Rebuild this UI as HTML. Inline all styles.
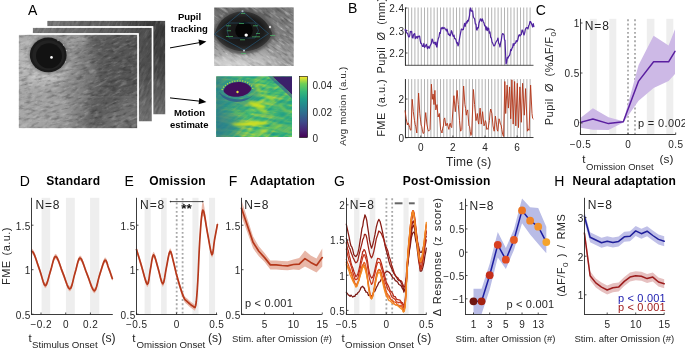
<!DOCTYPE html>
<html><head><meta charset="utf-8"><style>
html,body{margin:0;padding:0;background:#fff;}
svg{display:block;will-change:transform;}
text{font-family:"Liberation Sans", sans-serif;}
</style></head><body>
<svg width="685" height="350" viewBox="0 0 685 350">
<defs>
<linearGradient id="gBack" x1="0" y1="0" x2="1" y2="0">
 <stop offset="0" stop-color="#767676"/><stop offset="0.55" stop-color="#5a5a5a"/><stop offset="0.9" stop-color="#3c3c3c"/><stop offset="1" stop-color="#3a3a3a"/></linearGradient>
<linearGradient id="gBackV" x1="0" y1="0" x2="0" y2="1">
 <stop offset="0" stop-color="#6e6e6e" stop-opacity="0"/><stop offset="0.4" stop-color="#6e6e6e" stop-opacity="0.1"/><stop offset="1" stop-color="#7a7a7a" stop-opacity="0.85"/></linearGradient>
<linearGradient id="gMid" x1="0" y1="0" x2="1" y2="0">
 <stop offset="0" stop-color="#7a7a7a"/><stop offset="0.6" stop-color="#626262"/><stop offset="1" stop-color="#4a4a4a"/></linearGradient>
<linearGradient id="gFront" x1="0" y1="0" x2="1" y2="0">
 <stop offset="0" stop-color="#ababab"/><stop offset="0.3" stop-color="#9a9a9a"/><stop offset="0.55" stop-color="#7e7e7e"/><stop offset="0.78" stop-color="#686868"/><stop offset="1" stop-color="#5e5e5e"/></linearGradient>
<radialGradient id="gEyeGlow" cx="0.5" cy="0.5" r="0.5">
 <stop offset="0" stop-color="#c4c4c4" stop-opacity="0.85"/><stop offset="1" stop-color="#c4c4c4" stop-opacity="0"/></radialGradient>
<radialGradient id="gEyeHalo" cx="0.5" cy="0.5" r="0.5">
 <stop offset="0.7" stop-color="#4a4a4a" stop-opacity="0.7"/><stop offset="1" stop-color="#4a4a4a" stop-opacity="0"/></radialGradient>
<radialGradient id="gDark" cx="0.5" cy="0.5" r="0.5">
 <stop offset="0" stop-color="#3a3a3a" stop-opacity="0.6"/><stop offset="1" stop-color="#3a3a3a" stop-opacity="0"/></radialGradient>
<linearGradient id="gPupBg" x1="0" y1="0" x2="0" y2="1">
 <stop offset="0" stop-color="#707070"/><stop offset="0.5" stop-color="#7c7c7c"/><stop offset="0.75" stop-color="#a4a4a4"/><stop offset="1" stop-color="#c2c2c2"/></linearGradient>
<radialGradient id="gEyeIn" cx="0.5" cy="0.5" r="0.5">
 <stop offset="0" stop-color="#141414"/><stop offset="0.7" stop-color="#1c1c1c"/><stop offset="1" stop-color="#383838"/></radialGradient>
<linearGradient id="gPupR" x1="0" y1="0" x2="1" y2="0">
 <stop offset="0" stop-color="#7a7a7a" stop-opacity="0"/><stop offset="1" stop-color="#8a8a8a" stop-opacity="0.6"/></linearGradient>
<linearGradient id="gViridis" x1="0" y1="1" x2="0" y2="0">
 <stop offset="0" stop-color="#440154"/><stop offset="0.13" stop-color="#482878"/><stop offset="0.25" stop-color="#3e4989"/><stop offset="0.38" stop-color="#31688e"/><stop offset="0.5" stop-color="#26828e"/><stop offset="0.63" stop-color="#1f9e89"/><stop offset="0.75" stop-color="#35b779"/><stop offset="0.88" stop-color="#6ece58"/><stop offset="1" stop-color="#fde725"/></linearGradient>
<linearGradient id="gMotL" x1="0" y1="0" x2="1" y2="0">
 <stop offset="0" stop-color="#2b6f8e" stop-opacity="0.75"/><stop offset="0.2" stop-color="#2b7f8e" stop-opacity="0.3"/><stop offset="0.45" stop-color="#2b7f8e" stop-opacity="0"/></linearGradient>
<clipPath id="cBack"><rect x="46.5" y="20" width="119.5" height="95"/></clipPath>
<clipPath id="cMid"><rect x="32" y="27" width="120.5" height="95"/></clipPath>
<clipPath id="cFront"><rect x="18" y="34" width="120" height="95"/></clipPath>
<clipPath id="cPup"><rect x="214.2" y="7.4" width="79.4" height="58.5"/></clipPath>
<clipPath id="cMot"><rect x="216.3" y="76.5" width="75.7" height="60.5"/></clipPath>
<filter id="fFur" x="0" y="0" width="1" height="1" color-interpolation-filters="sRGB">
 <feTurbulence type="fractalNoise" baseFrequency="0.1 0.45" numOctaves="3" seed="5"/>
 <feColorMatrix type="matrix" values="0 0 0 0 0  0 0 0 0 0  0 0 0 0 0  2.0 0 0 0 -0.95"/>
 <feComposite in2="SourceGraphic" operator="in"/>
</filter>
<filter id="fFurL" x="0" y="0" width="1" height="1" color-interpolation-filters="sRGB">
 <feTurbulence type="fractalNoise" baseFrequency="0.1 0.45" numOctaves="3" seed="9"/>
 <feColorMatrix type="matrix" values="0 0 0 0 1  0 0 0 0 1  0 0 0 0 1  2.0 0 0 0 -1.0"/>
 <feComposite in2="SourceGraphic" operator="in"/>
</filter>
<filter id="fMot" x="0" y="0" width="1" height="1" color-interpolation-filters="sRGB">
 <feTurbulence type="fractalNoise" baseFrequency="0.05 0.3" numOctaves="3" seed="11" result="n"/>
 <feColorMatrix in="n" type="matrix" values="1.7 0 0 0 -0.2  1.7 0 0 0 -0.2  1.7 0 0 0 -0.2  0 0 0 0 1" result="g"/>
 <feComponentTransfer in="g">
  <feFuncR type="table" tableValues="0.17 0.13 0.14 0.20 0.36 0.62 0.86"/>
  <feFuncG type="table" tableValues="0.46 0.56 0.64 0.71 0.78 0.85 0.89"/>
  <feFuncB type="table" tableValues="0.56 0.55 0.53 0.48 0.41 0.28 0.18"/>
 </feComponentTransfer>
 <feComposite in2="SourceGraphic" operator="in"/>
</filter>
<filter id="fMot2" x="0" y="0" width="1" height="1" color-interpolation-filters="sRGB">
 <feTurbulence type="fractalNoise" baseFrequency="0.06 0.35" numOctaves="2" seed="17" result="n"/>
 <feColorMatrix in="n" type="matrix" values="1.7 0 0 0 -0.2  1.7 0 0 0 -0.2  1.7 0 0 0 -0.2  0 0 0 0 1" result="g"/>
 <feComponentTransfer in="g">
  <feFuncR type="table" tableValues="0.17 0.13 0.14 0.20 0.36 0.62 0.86"/>
  <feFuncG type="table" tableValues="0.46 0.56 0.64 0.71 0.78 0.85 0.89"/>
  <feFuncB type="table" tableValues="0.56 0.55 0.53 0.48 0.41 0.28 0.18"/>
 </feComponentTransfer>
 <feComposite in2="SourceGraphic" operator="in"/>
</filter>
<filter id="fBlur4" x="-50%" y="-50%" width="200%" height="200%"><feGaussianBlur stdDeviation="5"/></filter>
<filter id="fFur2" x="0" y="0" width="1" height="1" color-interpolation-filters="sRGB">
 <feTurbulence type="fractalNoise" baseFrequency="0.13 0.4" numOctaves="4" seed="23"/>
 <feColorMatrix type="matrix" values="0 0 0 0 0  0 0 0 0 0  0 0 0 0 0  2.2 0 0 0 -1.05"/>
 <feComposite in2="SourceGraphic" operator="in"/>
</filter>
<filter id="fFurL2" x="0" y="0" width="1" height="1" color-interpolation-filters="sRGB">
 <feTurbulence type="fractalNoise" baseFrequency="0.13 0.4" numOctaves="4" seed="31"/>
 <feColorMatrix type="matrix" values="0 0 0 0 1  0 0 0 0 1  0 0 0 0 1  2.2 0 0 0 -1.1"/>
 <feComposite in2="SourceGraphic" operator="in"/>
</filter>
<filter id="fBlur1" x="-30%" y="-30%" width="160%" height="160%"><feGaussianBlur stdDeviation="1"/></filter>
<filter id="fBlur2" x="-50%" y="-50%" width="200%" height="200%"><feGaussianBlur stdDeviation="2"/></filter>
</defs>
<rect width="685" height="350" fill="#fff"/>
<text x="28.00" y="15.00" font-size="14" text-anchor="start" font-weight="normal" fill="#000" >A</text>
<rect x="46.5" y="20" width="119.5" height="95" fill="url(#gBack)" stroke="#fff" stroke-width="1.4"/>
<rect x="46.5" y="20" width="119.5" height="95" fill="url(#gBackV)"/>
<g clip-path="url(#cBack)"><g transform="rotate(-70 140 60)"><rect x="60" y="-40" width="170" height="200" fill="#000" filter="url(#fFurL)" opacity="0.22"/><rect x="60" y="-40" width="170" height="200" fill="#000" filter="url(#fFur)" opacity="0.3"/></g></g>
<rect x="46.5" y="20" width="119.5" height="95" fill="none" stroke="#fff" stroke-width="1.4"/>
<rect x="32" y="27" width="120.5" height="95" fill="url(#gMid)" stroke="#fff" stroke-width="1.4"/>
<rect x="32" y="27" width="120.5" height="95" fill="url(#gBackV)"/>
<g clip-path="url(#cMid)"><g transform="rotate(-60 120 70)"><rect x="40" y="-40" width="170" height="220" fill="#000" filter="url(#fFurL)" opacity="0.22"/><rect x="40" y="-40" width="170" height="220" fill="#000" filter="url(#fFur)" opacity="0.3"/></g></g>
<rect x="32" y="27" width="120.5" height="95" fill="none" stroke="#fff" stroke-width="1.4"/>
<rect x="18" y="34" width="120" height="95" fill="url(#gFront)" stroke="#fff" stroke-width="1.4"/>
<g clip-path="url(#cFront)">
<path d="M88 34 L138 34 L138 92 C125 96, 108 104, 100 129 L84 129 C86 110, 92 95, 96 80 C96 62, 92 48, 88 34 Z" fill="#4e4e4e" opacity="0.6" filter="url(#fBlur4)"/>
<path d="M104 129 C110 110, 125 98, 138 95 L138 129 Z" fill="#7a7a7a" opacity="0.6" filter="url(#fBlur4)"/>
<ellipse cx="42" cy="62" rx="28" ry="26" fill="#bebebe" opacity="0.7" filter="url(#fBlur4)"/>
<ellipse cx="42" cy="108" rx="28" ry="22" fill="#a4a4a4" opacity="0.5" filter="url(#fBlur4)"/>
<ellipse cx="78" cy="40" rx="9" ry="7" fill="#b0b0b0" opacity="0.5" filter="url(#fBlur2)"/>
<ellipse cx="46" cy="78" rx="24" ry="6" fill="url(#gEyeGlow)"/>
<g transform="rotate(-12 78 82)"><rect x="-20" y="10" width="200" height="150" fill="#000" filter="url(#fFur2)" opacity="0.35"/></g>
<g transform="rotate(-25 78 82)"><rect x="-20" y="10" width="200" height="150" fill="#000" filter="url(#fFurL2)" opacity="0.3"/></g>
<ellipse cx="48.5" cy="55" rx="22" ry="21" fill="url(#gEyeHalo)"/>
<ellipse cx="48.2" cy="54.9" rx="18.4" ry="17.3" fill="#1a1a1a"/>
<ellipse cx="48.4" cy="55.2" rx="16" ry="15" fill="#222"/>
<ellipse cx="49" cy="55.8" rx="13" ry="12.5" fill="#121212"/>
<circle cx="58" cy="40.5" r="0.7" fill="#d0d0d0" opacity="0.7"/>
<circle cx="63.5" cy="45" r="0.7" fill="#d0d0d0" opacity="0.7"/>
<circle cx="66.5" cy="50.5" r="0.7" fill="#d0d0d0" opacity="0.7"/>
<circle cx="65.5" cy="62" r="0.7" fill="#d0d0d0" opacity="0.7"/>
<line x1="78" y1="96.9" x2="138" y2="96.9" stroke="#fff" stroke-opacity="0.18" stroke-width="0.6"/>
<circle cx="51.5" cy="57.4" r="1.3" fill="#fff"/>
</g>
<rect x="18" y="34" width="120" height="95" fill="none" stroke="#fff" stroke-width="1.4"/>
<g clip-path="url(#cPup)">
<rect x="214" y="7" width="80" height="59" fill="url(#gPupBg)"/>
<rect x="260" y="7" width="34" height="59" fill="url(#gPupR)"/>
<g transform="rotate(35 260 30)"><rect x="200" y="-30" width="120" height="120" fill="#000" filter="url(#fFurL)" opacity="0.7"/></g>
<g transform="rotate(35 260 30)"><rect x="200" y="-30" width="120" height="120" fill="#000" filter="url(#fFur)" opacity="0.4"/></g>
<ellipse cx="230" cy="62" rx="20" ry="6" fill="#dcdcdc" opacity="0.55" filter="url(#fBlur2)"/>
<ellipse cx="262" cy="60" rx="14" ry="5" fill="#c8c8c8" opacity="0.4" filter="url(#fBlur2)"/>
<path d="M212.5 34.2 C220 1, 264 1, 275.5 33.4 C264 60, 224 62, 212.5 34.2 Z" fill="#5a5a5a" filter="url(#fBlur1)"/>
<path d="M214.5 34.2 C222 4, 262 4, 272.3 33.4 C262 57, 226 57, 214.5 34.2 Z" fill="url(#gEyeIn)"/>
<circle cx="244" cy="30.4" r="8.7" fill="#050505"/>
<circle cx="246.2" cy="35.1" r="1.7" fill="#fff"/>
<circle cx="242.5" cy="11.2" r="1" fill="#ddd"/><circle cx="244" cy="50.5" r="1" fill="#ddd"/><circle cx="270" cy="27" r="1.2" fill="#ddd"/>
<polygon points="214.5,34.2 242.5,11.2 268.5,33.6 244,50.2" fill="none" stroke="#2a6f9a" stroke-width="0.5"/>
<polygon points="229,23 255,23 258.5,30.4 255,38 229,38 227,30.4" fill="none" stroke="#2a6f9a" stroke-width="0.4"/>
<rect x="239" y="23" width="5" height="0.7" fill="#4ec46a" opacity="0.9"/>
<rect x="226" y="25.5" width="5" height="0.7" fill="#4ec46a" opacity="0.9"/>
<rect x="253" y="25.5" width="5" height="0.7" fill="#4ec46a" opacity="0.9"/>
<rect x="227" y="30.5" width="4" height="0.7" fill="#4ec46a" opacity="0.9"/>
<rect x="256" y="33" width="4" height="0.7" fill="#4ec46a" opacity="0.9"/>
<rect x="226" y="36" width="7" height="0.7" fill="#4ec46a" opacity="0.9"/>
<rect x="252" y="36.5" width="8" height="0.7" fill="#4ec46a" opacity="0.9"/>
<rect x="240" y="39.5" width="5" height="0.7" fill="#4ec46a" opacity="0.9"/>
<rect x="270" y="35" width="5" height="0.7" fill="#4ec46a" opacity="0.9"/>
<rect x="241" y="13" width="4" height="0.7" fill="#4ec46a" opacity="0.9"/>
<rect x="241" y="53" width="5" height="0.7" fill="#4ec46a" opacity="0.9"/>
</g>
<g clip-path="url(#cMot)">
<rect x="216" y="76" width="77" height="62" fill="#2a9c88"/>
<g transform="rotate(8 254 107)" opacity="0.75"><rect x="196" y="56" width="116" height="104" fill="#000" filter="url(#fMot)"/></g>
<g transform="rotate(-35 254 107)" opacity="0.35"><rect x="196" y="56" width="116" height="104" fill="#000" filter="url(#fMot2)"/></g>
<rect x="216" y="76" width="77" height="62" fill="url(#gMotL)"/>
<ellipse cx="226" cy="125" rx="14" ry="14" fill="#2a7a8e" opacity="0.5" filter="url(#fBlur4)"/>
<ellipse cx="282" cy="118" rx="12" ry="20" fill="#25a086" opacity="0.45" filter="url(#fBlur4)"/>
<ellipse cx="238" cy="93" rx="22" ry="15" fill="#2a8a8c" opacity="0.45" filter="url(#fBlur2)"/>
<path d="M272 76 L293 76 L293 96 C288 90, 280 84, 272 76 Z" fill="#3b1f6a"/>
<path d="M268 76 L272 76 C280 84, 288 90, 293 96 L293 100 C287 93, 277 85, 268 76 Z" fill="#31688e" opacity="0.7"/>
<path d="M219 92 C224 104, 246 106, 255 93 C250 101, 229 102, 219 92 Z" fill="#2f5a8c" opacity="0.8"/>
<path d="M221.5 91 C226 78, 250 76, 253.5 89 C248 100, 228 102, 221.5 91 Z" fill="#3a8f8a"/>
<path d="M222 90 C226 79, 250 77, 253 89" fill="none" stroke="#b8dc3a" stroke-width="1.3" stroke-dasharray="1.2 1.4"/>
<path d="M223.5 91 C226 80, 248 79, 251.5 89 C248 98, 228 100, 223.5 91 Z" fill="#420f5c"/>
<circle cx="237.5" cy="92" r="1.2" fill="#e0e040"/>
<ellipse cx="250" cy="123.8" rx="18" ry="1.9" fill="#e2e418" opacity="0.95" transform="rotate(-2 250 123.8)" filter="url(#fBlur1)"/>
<ellipse cx="257" cy="105" rx="9" ry="2.4" fill="#d2e21b" opacity="0.9" transform="rotate(18 257 105)" filter="url(#fBlur1)"/>
<ellipse cx="262" cy="110" rx="6" ry="1.6" fill="#bddf26" opacity="0.8" transform="rotate(25 262 110)" filter="url(#fBlur1)"/>
<ellipse cx="264" cy="131" rx="4" ry="2" fill="#c9df35" opacity="0.8" transform="rotate(0 264 131)" filter="url(#fBlur1)"/>
<ellipse cx="270" cy="98" rx="7" ry="1.4" fill="#b5de2b" opacity="0.7" transform="rotate(35 270 98)" filter="url(#fBlur1)"/>
<ellipse cx="258" cy="88" rx="5" ry="1.5" fill="#b5de2b" opacity="0.7" transform="rotate(60 258 88)" filter="url(#fBlur1)"/>
<ellipse cx="276" cy="127" rx="6" ry="1.5" fill="#a8db34" opacity="0.7" transform="rotate(-10 276 127)" filter="url(#fBlur1)"/>
<ellipse cx="240" cy="113" rx="7" ry="1.4" fill="#95d840" opacity="0.6" transform="rotate(10 240 113)" filter="url(#fBlur1)"/>
<ellipse cx="283" cy="108" rx="5" ry="1.3" fill="#a8db34" opacity="0.6" transform="rotate(40 283 108)" filter="url(#fBlur1)"/>
</g>
<rect x="299.6" y="76.4" width="7.9" height="61.1" fill="url(#gViridis)" stroke="#000" stroke-width="0.6"/>
<text x="312.50" y="89.00" font-size="10" text-anchor="start" font-weight="normal" fill="#262626" >0.04</text>
<text x="312.50" y="115.50" font-size="10" text-anchor="start" font-weight="normal" fill="#262626" >0.02</text>
<text x="312.50" y="141.60" font-size="10" text-anchor="start" font-weight="normal" fill="#262626" >0</text>
<text transform="translate(345.50,106.20) rotate(-90)" font-size="9.5" text-anchor="middle" fill="#262626" letter-spacing="0.3" word-spacing="1">Avg motion (a.u.)</text>
<line x1="170.00" y1="47.90" x2="199.02" y2="42.72" stroke="#000" stroke-width="1.0" />
<polygon points="206.40,41.40 199.58,45.87 198.45,39.57" fill="#000" />
<line x1="170.00" y1="97.90" x2="198.94" y2="101.08" stroke="#000" stroke-width="1.0" />
<polygon points="206.40,101.90 198.60,104.26 199.29,97.90" fill="#000" />
<text x="189.50" y="20.00" font-size="9.5" text-anchor="middle" font-weight="bold" fill="#000" >Pupil</text>
<text x="189.30" y="32.10" font-size="9.5" text-anchor="middle" font-weight="bold" fill="#000" >tracking</text>
<text x="189.50" y="116.10" font-size="9.5" text-anchor="middle" font-weight="bold" fill="#000" >Motion</text>
<text x="189.30" y="127.90" font-size="9.5" text-anchor="middle" font-weight="bold" fill="#000" >estimate</text>
<text x="347.90" y="12.90" font-size="14" text-anchor="start" font-weight="normal" fill="#000" >B</text>
<line x1="405.30" y1="7.50" x2="405.30" y2="65.30" stroke="#9a9a9a" stroke-width="0.75" />
<line x1="405.30" y1="79.10" x2="405.30" y2="137.70" stroke="#9a9a9a" stroke-width="0.75" />
<line x1="408.50" y1="7.50" x2="408.50" y2="65.30" stroke="#9a9a9a" stroke-width="0.75" />
<line x1="408.50" y1="79.10" x2="408.50" y2="137.70" stroke="#9a9a9a" stroke-width="0.75" />
<line x1="411.70" y1="7.50" x2="411.70" y2="65.30" stroke="#9a9a9a" stroke-width="0.75" />
<line x1="411.70" y1="79.10" x2="411.70" y2="137.70" stroke="#9a9a9a" stroke-width="0.75" />
<line x1="414.90" y1="7.50" x2="414.90" y2="65.30" stroke="#9a9a9a" stroke-width="0.75" />
<line x1="414.90" y1="79.10" x2="414.90" y2="137.70" stroke="#9a9a9a" stroke-width="0.75" />
<line x1="418.10" y1="7.50" x2="418.10" y2="65.30" stroke="#9a9a9a" stroke-width="0.75" />
<line x1="418.10" y1="79.10" x2="418.10" y2="137.70" stroke="#9a9a9a" stroke-width="0.75" />
<line x1="421.30" y1="7.50" x2="421.30" y2="65.30" stroke="#9a9a9a" stroke-width="0.75" />
<line x1="421.30" y1="79.10" x2="421.30" y2="137.70" stroke="#9a9a9a" stroke-width="0.75" />
<line x1="424.50" y1="7.50" x2="424.50" y2="65.30" stroke="#9a9a9a" stroke-width="0.75" />
<line x1="424.50" y1="79.10" x2="424.50" y2="137.70" stroke="#9a9a9a" stroke-width="0.75" />
<line x1="427.70" y1="7.50" x2="427.70" y2="65.30" stroke="#9a9a9a" stroke-width="0.75" />
<line x1="427.70" y1="79.10" x2="427.70" y2="137.70" stroke="#9a9a9a" stroke-width="0.75" />
<line x1="430.90" y1="7.50" x2="430.90" y2="65.30" stroke="#9a9a9a" stroke-width="0.75" />
<line x1="430.90" y1="79.10" x2="430.90" y2="137.70" stroke="#9a9a9a" stroke-width="0.75" />
<line x1="434.10" y1="7.50" x2="434.10" y2="65.30" stroke="#9a9a9a" stroke-width="0.75" />
<line x1="434.10" y1="79.10" x2="434.10" y2="137.70" stroke="#9a9a9a" stroke-width="0.75" />
<line x1="437.30" y1="7.50" x2="437.30" y2="65.30" stroke="#9a9a9a" stroke-width="0.75" />
<line x1="437.30" y1="79.10" x2="437.30" y2="137.70" stroke="#9a9a9a" stroke-width="0.75" />
<line x1="440.50" y1="7.50" x2="440.50" y2="65.30" stroke="#9a9a9a" stroke-width="0.75" />
<line x1="440.50" y1="79.10" x2="440.50" y2="137.70" stroke="#9a9a9a" stroke-width="0.75" />
<line x1="443.70" y1="7.50" x2="443.70" y2="65.30" stroke="#9a9a9a" stroke-width="0.75" />
<line x1="443.70" y1="79.10" x2="443.70" y2="137.70" stroke="#9a9a9a" stroke-width="0.75" />
<line x1="446.90" y1="7.50" x2="446.90" y2="65.30" stroke="#9a9a9a" stroke-width="0.75" />
<line x1="446.90" y1="79.10" x2="446.90" y2="137.70" stroke="#9a9a9a" stroke-width="0.75" />
<line x1="450.10" y1="7.50" x2="450.10" y2="65.30" stroke="#9a9a9a" stroke-width="0.75" />
<line x1="450.10" y1="79.10" x2="450.10" y2="137.70" stroke="#9a9a9a" stroke-width="0.75" />
<line x1="453.30" y1="7.50" x2="453.30" y2="65.30" stroke="#9a9a9a" stroke-width="0.75" />
<line x1="453.30" y1="79.10" x2="453.30" y2="137.70" stroke="#9a9a9a" stroke-width="0.75" />
<line x1="456.50" y1="7.50" x2="456.50" y2="65.30" stroke="#9a9a9a" stroke-width="0.75" />
<line x1="456.50" y1="79.10" x2="456.50" y2="137.70" stroke="#9a9a9a" stroke-width="0.75" />
<line x1="459.70" y1="7.50" x2="459.70" y2="65.30" stroke="#9a9a9a" stroke-width="0.75" />
<line x1="459.70" y1="79.10" x2="459.70" y2="137.70" stroke="#9a9a9a" stroke-width="0.75" />
<line x1="462.90" y1="7.50" x2="462.90" y2="65.30" stroke="#9a9a9a" stroke-width="0.75" />
<line x1="462.90" y1="79.10" x2="462.90" y2="137.70" stroke="#9a9a9a" stroke-width="0.75" />
<line x1="466.10" y1="7.50" x2="466.10" y2="65.30" stroke="#9a9a9a" stroke-width="0.75" />
<line x1="466.10" y1="79.10" x2="466.10" y2="137.70" stroke="#9a9a9a" stroke-width="0.75" />
<line x1="469.30" y1="7.50" x2="469.30" y2="65.30" stroke="#9a9a9a" stroke-width="0.75" />
<line x1="469.30" y1="79.10" x2="469.30" y2="137.70" stroke="#9a9a9a" stroke-width="0.75" />
<line x1="472.50" y1="7.50" x2="472.50" y2="65.30" stroke="#9a9a9a" stroke-width="0.75" />
<line x1="472.50" y1="79.10" x2="472.50" y2="137.70" stroke="#9a9a9a" stroke-width="0.75" />
<line x1="475.70" y1="7.50" x2="475.70" y2="65.30" stroke="#9a9a9a" stroke-width="0.75" />
<line x1="475.70" y1="79.10" x2="475.70" y2="137.70" stroke="#9a9a9a" stroke-width="0.75" />
<line x1="478.90" y1="7.50" x2="478.90" y2="65.30" stroke="#9a9a9a" stroke-width="0.75" />
<line x1="478.90" y1="79.10" x2="478.90" y2="137.70" stroke="#9a9a9a" stroke-width="0.75" />
<line x1="482.10" y1="7.50" x2="482.10" y2="65.30" stroke="#9a9a9a" stroke-width="0.75" />
<line x1="482.10" y1="79.10" x2="482.10" y2="137.70" stroke="#9a9a9a" stroke-width="0.75" />
<line x1="485.30" y1="7.50" x2="485.30" y2="65.30" stroke="#9a9a9a" stroke-width="0.75" />
<line x1="485.30" y1="79.10" x2="485.30" y2="137.70" stroke="#9a9a9a" stroke-width="0.75" />
<line x1="488.50" y1="7.50" x2="488.50" y2="65.30" stroke="#9a9a9a" stroke-width="0.75" />
<line x1="488.50" y1="79.10" x2="488.50" y2="137.70" stroke="#9a9a9a" stroke-width="0.75" />
<line x1="491.70" y1="7.50" x2="491.70" y2="65.30" stroke="#9a9a9a" stroke-width="0.75" />
<line x1="491.70" y1="79.10" x2="491.70" y2="137.70" stroke="#9a9a9a" stroke-width="0.75" />
<line x1="494.90" y1="7.50" x2="494.90" y2="65.30" stroke="#9a9a9a" stroke-width="0.75" />
<line x1="494.90" y1="79.10" x2="494.90" y2="137.70" stroke="#9a9a9a" stroke-width="0.75" />
<line x1="498.10" y1="7.50" x2="498.10" y2="65.30" stroke="#9a9a9a" stroke-width="0.75" />
<line x1="498.10" y1="79.10" x2="498.10" y2="137.70" stroke="#9a9a9a" stroke-width="0.75" />
<line x1="501.30" y1="7.50" x2="501.30" y2="65.30" stroke="#9a9a9a" stroke-width="0.75" />
<line x1="501.30" y1="79.10" x2="501.30" y2="137.70" stroke="#9a9a9a" stroke-width="0.75" />
<line x1="504.50" y1="7.50" x2="504.50" y2="65.30" stroke="#9a9a9a" stroke-width="0.75" />
<line x1="504.50" y1="79.10" x2="504.50" y2="137.70" stroke="#9a9a9a" stroke-width="0.75" />
<line x1="507.70" y1="7.50" x2="507.70" y2="65.30" stroke="#9a9a9a" stroke-width="0.75" />
<line x1="507.70" y1="79.10" x2="507.70" y2="137.70" stroke="#9a9a9a" stroke-width="0.75" />
<line x1="510.90" y1="7.50" x2="510.90" y2="65.30" stroke="#9a9a9a" stroke-width="0.75" />
<line x1="510.90" y1="79.10" x2="510.90" y2="137.70" stroke="#9a9a9a" stroke-width="0.75" />
<line x1="514.10" y1="7.50" x2="514.10" y2="65.30" stroke="#9a9a9a" stroke-width="0.75" />
<line x1="514.10" y1="79.10" x2="514.10" y2="137.70" stroke="#9a9a9a" stroke-width="0.75" />
<line x1="517.30" y1="7.50" x2="517.30" y2="65.30" stroke="#9a9a9a" stroke-width="0.75" />
<line x1="517.30" y1="79.10" x2="517.30" y2="137.70" stroke="#9a9a9a" stroke-width="0.75" />
<line x1="520.50" y1="7.50" x2="520.50" y2="65.30" stroke="#9a9a9a" stroke-width="0.75" />
<line x1="520.50" y1="79.10" x2="520.50" y2="137.70" stroke="#9a9a9a" stroke-width="0.75" />
<line x1="523.70" y1="7.50" x2="523.70" y2="65.30" stroke="#9a9a9a" stroke-width="0.75" />
<line x1="523.70" y1="79.10" x2="523.70" y2="137.70" stroke="#9a9a9a" stroke-width="0.75" />
<line x1="526.90" y1="7.50" x2="526.90" y2="65.30" stroke="#9a9a9a" stroke-width="0.75" />
<line x1="526.90" y1="79.10" x2="526.90" y2="137.70" stroke="#9a9a9a" stroke-width="0.75" />
<line x1="530.10" y1="7.50" x2="530.10" y2="65.30" stroke="#9a9a9a" stroke-width="0.75" />
<line x1="530.10" y1="79.10" x2="530.10" y2="137.70" stroke="#9a9a9a" stroke-width="0.75" />
<line x1="405.50" y1="7.50" x2="405.50" y2="65.75" stroke="#262626" stroke-width="0.9" />
<line x1="405.50" y1="8.00" x2="407.50" y2="8.00" stroke="#262626" stroke-width="0.8" />
<text x="404.40" y="12.30" font-size="10" text-anchor="end" font-weight="normal" fill="#262626" letter-spacing="0.4" >2.4</text>
<line x1="405.50" y1="30.50" x2="407.50" y2="30.50" stroke="#262626" stroke-width="0.8" />
<text x="404.40" y="34.80" font-size="10" text-anchor="end" font-weight="normal" fill="#262626" letter-spacing="0.4" >2.3</text>
<line x1="405.50" y1="53.00" x2="407.50" y2="53.00" stroke="#262626" stroke-width="0.8" />
<text x="404.40" y="57.30" font-size="10" text-anchor="end" font-weight="normal" fill="#262626" letter-spacing="0.4" >2.2</text>
<line x1="405.20" y1="65.30" x2="533.50" y2="65.30" stroke="#262626" stroke-width="0.8" />
<polyline points="405.00,30.00 405.67,29.64 406.33,32.23 407.00,33.00 407.67,33.66 408.33,36.21 409.00,37.00 409.67,35.99 410.33,31.41 411.00,32.00 411.67,31.47 412.33,37.75 413.00,38.00 413.50,34.75 414.00,34.00 414.67,33.62 415.33,38.58 416.00,37.00 416.60,36.65 417.20,38.35 417.80,36.28 418.40,36.92 419.00,36.00 419.60,35.98 420.20,40.30 420.80,43.31 421.40,43.32 422.00,45.00 422.62,46.50 423.25,46.39 423.88,43.48 424.50,47.34 425.12,46.72 425.75,45.47 426.38,44.31 427.00,47.00 427.60,48.70 428.20,46.46 428.80,47.54 429.40,48.17 430.00,46.00 430.67,44.78 431.33,43.52 432.00,39.00 432.67,39.79 433.33,43.23 434.00,43.00 434.67,42.38 435.33,44.60 436.00,42.00 436.50,46.47 437.00,47.00 437.67,41.57 438.33,38.44 439.00,37.00 439.67,32.53 440.33,33.42 441.00,28.00 441.60,27.77 442.20,28.86 442.80,27.27 443.40,28.44 444.00,27.91 444.60,27.82 445.20,29.14 445.80,29.24 446.40,31.00 447.00,29.00 447.67,31.61 448.33,34.56 449.00,34.00 449.60,35.45 450.20,35.75 450.80,33.69 451.40,30.65 452.00,32.00 452.67,34.88 453.33,36.42 454.00,35.00 454.67,38.77 455.33,38.69 456.00,40.00 456.67,43.11 457.33,42.50 458.00,46.00 458.67,44.39 459.33,39.72 460.00,36.00 460.67,32.55 461.33,29.06 462.00,29.00 462.67,29.84 463.33,29.55 464.00,26.00 464.60,23.26 465.20,26.36 465.80,23.73 466.40,21.78 467.00,23.00 467.67,20.26 468.33,21.06 469.00,18.00 469.50,15.94 470.00,10.00 470.67,7.96 471.33,11.26 472.00,11.00 472.67,10.97 473.33,16.80 474.00,18.00 474.67,19.12 475.33,23.98 476.00,24.00 476.50,29.50 477.00,30.00 477.67,27.69 478.33,27.93 479.00,23.00 479.67,21.01 480.33,18.80 481.00,20.00 481.60,21.12 482.20,18.76 482.80,20.23 483.40,21.92 484.00,23.00 484.67,25.91 485.33,25.88 486.00,30.00 486.67,26.95 487.33,30.58 488.00,28.00 488.67,28.37 489.33,33.05 490.00,32.00 490.67,37.40 491.33,38.03 492.00,42.00 492.67,43.13 493.33,44.77 494.00,46.00 494.67,45.41 495.33,43.83 496.00,42.00 496.67,40.97 497.33,39.96 498.00,38.00 498.67,43.29 499.33,44.04 500.00,47.00 500.67,42.64 501.33,40.15 502.00,35.00 502.67,33.64 503.33,33.97 504.00,35.00 504.50,39.98 505.00,40.00 505.50,52.11 506.00,64.00 506.67,62.25 507.33,57.46 508.00,58.00 508.67,56.23 509.33,55.75 510.00,54.00 510.67,49.50 511.33,50.60 512.00,48.00 512.60,47.69 513.20,43.71 513.80,45.66 514.40,43.82 515.00,43.00 515.60,43.13 516.20,40.63 516.80,41.68 517.40,41.04 518.00,39.00 518.67,35.52 519.33,34.71 520.00,36.00 520.67,34.92 521.33,34.41 522.00,30.00 522.67,30.37 523.33,33.11 524.00,35.00 524.67,33.15 525.33,29.40 526.00,28.00 526.67,27.63 527.33,27.69 528.00,29.00 528.67,25.82 529.33,24.50 530.00,21.50 530.67,21.63 531.33,23.19 532.00,25.00 532.63,26.98 533.27,23.67 533.90,26.70" fill="none" stroke="#4f22a0" stroke-width="1.2" stroke-linejoin="round" stroke-linecap="round" />
<line x1="405.50" y1="79.10" x2="405.50" y2="138.15" stroke="#262626" stroke-width="0.9" />
<line x1="405.50" y1="137.70" x2="407.50" y2="137.70" stroke="#262626" stroke-width="0.8" />
<text x="404.40" y="142.00" font-size="10" text-anchor="end" font-weight="normal" fill="#262626" letter-spacing="0.4" >0</text>
<line x1="405.50" y1="99.00" x2="407.50" y2="99.00" stroke="#262626" stroke-width="0.8" />
<text x="404.40" y="103.30" font-size="10" text-anchor="end" font-weight="normal" fill="#262626" letter-spacing="0.4" >2</text>
<line x1="405.05" y1="137.50" x2="533.50" y2="137.50" stroke="#262626" stroke-width="0.9" />
<line x1="420.80" y1="137.50" x2="420.80" y2="135.50" stroke="#262626" stroke-width="0.8" />
<text x="421.00" y="151.00" font-size="10" text-anchor="middle" font-weight="normal" fill="#262626" letter-spacing="0.4" >0</text>
<line x1="452.90" y1="137.50" x2="452.90" y2="135.50" stroke="#262626" stroke-width="0.8" />
<text x="453.10" y="151.00" font-size="10" text-anchor="middle" font-weight="normal" fill="#262626" letter-spacing="0.4" >2</text>
<line x1="485.00" y1="137.50" x2="485.00" y2="135.50" stroke="#262626" stroke-width="0.8" />
<text x="485.20" y="151.00" font-size="10" text-anchor="middle" font-weight="normal" fill="#262626" letter-spacing="0.4" >4</text>
<line x1="517.10" y1="137.50" x2="517.10" y2="135.50" stroke="#262626" stroke-width="0.8" />
<text x="517.30" y="151.00" font-size="10" text-anchor="middle" font-weight="normal" fill="#262626" letter-spacing="0.4" >6</text>
<text x="468.82" y="166.40" font-size="12" text-anchor="middle" font-weight="normal" fill="#262626" letter-spacing="0.25" >Time (s)</text>
<text transform="translate(385.20,35.50) rotate(-90)" font-size="11" text-anchor="middle" fill="#262626" letter-spacing="0.45" word-spacing="3">Pupil Ø (mm)</text>
<text transform="translate(384.50,107.90) rotate(-90)" font-size="11" text-anchor="middle" fill="#262626" letter-spacing="0.45" word-spacing="1.5">FME (a.u.)</text>
<polyline points="405.10,110.80 406.20,118.80 407.40,125.00 408.05,122.87 408.70,124.10 409.70,127.60 410.35,129.90 411.00,130.30 412.20,99.30 413.30,111.70 414.50,120.60 415.15,124.37 415.80,126.80 416.80,133.00 418.60,93.10 419.80,113.50 420.45,119.15 421.10,125.00 421.80,126.68 422.50,131.20 423.20,133.56 423.90,133.00 425.70,112.60 426.90,124.10 427.80,129.19 428.70,131.20 429.35,130.36 430.00,129.40 431.40,84.20 432.30,99.30 433.10,94.00 434.00,104.60 434.90,90.40 435.80,109.90 437.00,104.60 438.10,117.00 439.30,113.50 440.60,129.40 441.30,131.23 442.00,133.00 442.70,128.13 443.40,125.90 444.05,119.42 444.70,117.90 445.90,125.90 446.60,123.91 447.30,123.20 448.10,126.73 448.90,129.40 449.60,124.15 450.30,123.20 451.00,126.87 451.70,127.60 453.90,95.70 455.30,111.70 457.10,90.40 458.30,104.60 459.50,120.60 460.60,131.20 461.80,129.40 463.60,86.00 464.90,104.60 465.60,108.56 466.30,115.20 467.00,111.21 467.70,109.90 468.90,125.90 469.55,126.26 470.20,131.20 470.90,135.44 471.60,134.70 473.40,89.50 474.60,104.60 476.00,120.60 476.65,118.24 477.30,113.50 478.00,120.68 478.70,124.10 480.10,108.10 481.30,124.10 482.60,111.70 484.00,125.90 484.70,123.83 485.40,120.60 486.05,122.67 486.70,129.40 487.35,128.54 488.00,129.40 488.70,124.99 489.40,120.60 490.05,112.88 490.70,109.00 491.90,113.50 493.00,125.90 494.20,131.20 495.40,116.10 496.50,124.10 497.15,129.91 497.80,131.20 499.00,118.80 499.70,120.79 500.40,124.10 501.10,125.02 501.80,129.40 502.70,134.54 503.60,136.50 504.80,81.50 505.70,113.50 507.10,85.10 508.40,108.10 509.60,86.90 510.70,118.80 511.90,79.80 513.20,124.10 514.60,81.50 515.80,125.90 517.30,83.30 518.50,127.60 519.90,86.90 521.30,122.30 522.60,83.30 524.30,115.20 525.60,88.60 527.40,131.20 528.25,128.87 529.10,130.30 530.60,85.10 532.00,113.50 532.60,118.29 533.20,118.80" fill="none" stroke="#b4381b" stroke-width="0.95" stroke-linejoin="round" stroke-linecap="round" />
<text x="535.70" y="14.90" font-size="14" text-anchor="start" font-weight="normal" fill="#000" >C</text>
<rect x="589.80" y="18.80" width="7.00" height="115.70" fill="#eeeeee" />
<rect x="609.30" y="18.80" width="7.00" height="115.70" fill="#eeeeee" />
<rect x="646.80" y="18.80" width="7.60" height="115.70" fill="#eeeeee" />
<rect x="666.30" y="18.80" width="7.00" height="115.70" fill="#eeeeee" />
<line x1="628.00" y1="19.30" x2="628.00" y2="134.50" stroke="#a8a8a8" stroke-width="1.8" stroke-dasharray="1.9 2.3"/>
<line x1="635.00" y1="19.30" x2="635.00" y2="134.50" stroke="#a8a8a8" stroke-width="1.8" stroke-dasharray="1.9 2.3"/>
<polygon points="580.40,118.00 592.90,108.30 608.50,117.30 623.30,121.30 638.60,65.00 653.60,35.70 668.60,45.40 675.00,29.30 675.00,74.00 668.60,81.00 653.60,88.00 638.60,100.70 623.30,122.60 608.50,130.00 592.90,129.70 580.40,127.80" fill="#cdb9e6" />
<polyline points="580.40,122.40 592.90,119.00 608.50,123.60 623.30,121.80 638.60,81.10 653.60,61.80 668.60,61.80 675.00,51.40" fill="none" stroke="#5a1fa0" stroke-width="1.5" stroke-linejoin="round" stroke-linecap="round" />
<line x1="580.50" y1="18.80" x2="580.50" y2="134.95" stroke="#262626" stroke-width="0.9" />
<line x1="580.50" y1="123.00" x2="582.50" y2="123.00" stroke="#262626" stroke-width="0.8" />
<text x="579.70" y="127.30" font-size="10" text-anchor="end" font-weight="normal" fill="#262626" letter-spacing="0.4" >0</text>
<line x1="580.50" y1="73.00" x2="582.50" y2="73.00" stroke="#262626" stroke-width="0.8" />
<text x="579.70" y="77.30" font-size="10" text-anchor="end" font-weight="normal" fill="#262626" letter-spacing="0.4" >0.5</text>
<line x1="580.50" y1="23.00" x2="582.50" y2="23.00" stroke="#262626" stroke-width="0.8" />
<text x="579.70" y="27.30" font-size="10" text-anchor="end" font-weight="normal" fill="#262626" letter-spacing="0.4" >1</text>
<line x1="580.05" y1="134.50" x2="675.70" y2="134.50" stroke="#262626" stroke-width="0.9" />
<line x1="580.30" y1="134.50" x2="580.30" y2="132.50" stroke="#262626" stroke-width="0.8" />
<text x="580.50" y="148.40" font-size="10" text-anchor="middle" font-weight="normal" fill="#262626" letter-spacing="0.4" >−0.5</text>
<line x1="628.00" y1="134.50" x2="628.00" y2="132.50" stroke="#262626" stroke-width="0.8" />
<text x="628.20" y="148.40" font-size="10" text-anchor="middle" font-weight="normal" fill="#262626" letter-spacing="0.4" >0</text>
<line x1="675.70" y1="134.50" x2="675.70" y2="132.50" stroke="#262626" stroke-width="0.8" />
<text x="675.90" y="148.40" font-size="10" text-anchor="middle" font-weight="normal" fill="#262626" letter-spacing="0.4" >0.5</text>
<text x="584.70" y="30.00" font-size="12" text-anchor="start" font-weight="normal" fill="#262626" letter-spacing="0.9" >N=8</text>
<text x="638.00" y="127.40" font-size="11" text-anchor="start" font-weight="normal" fill="#262626" letter-spacing="0.35" >p = 0.002</text>
<text x="582.20" y="162.70" font-size="11.5" text-anchor="start" font-weight="normal" fill="#262626" >t</text>
<text x="586.00" y="170.30" font-size="9.5" text-anchor="start" font-weight="normal" fill="#262626" >Omission Onset</text>
<text x="659.60" y="162.70" font-size="11.8" text-anchor="start" font-weight="normal" fill="#262626" >(s)</text>
<text transform="translate(552.8,76.3) rotate(-90)" font-size="11" text-anchor="middle" fill="#262626" letter-spacing="0.45" word-spacing="3">Pupil Ø (%ΔF/F<tspan font-size="8" dy="3">0</tspan><tspan dy="-3">)</tspan></text>
<text x="19.70" y="185.70" font-size="14" text-anchor="start" font-weight="normal" fill="#000" >D</text>
<text x="46.30" y="185.40" font-size="12" text-anchor="start" font-weight="bold" fill="#000" letter-spacing="0.25" >Standard</text>
<rect x="41.60" y="197.80" width="8.60" height="116.40" fill="#eeeeee" />
<rect x="65.90" y="197.80" width="8.90" height="116.40" fill="#eeeeee" />
<rect x="90.10" y="197.80" width="9.20" height="116.40" fill="#eeeeee" />
<polygon points="31.70,248.50 32.00,248.77 32.40,249.03 32.91,249.50 33.54,250.42 34.30,252.00 35.25,254.48 36.37,257.72 37.59,261.35 38.83,265.03 40.00,268.40 41.10,271.90 42.20,275.77 43.28,279.35 44.34,281.98 45.40,283.00 46.44,281.95 47.46,279.27 48.47,275.65 49.48,271.79 50.50,268.40 51.50,264.97 52.49,261.04 53.49,257.35 54.54,254.66 55.70,253.70 56.98,254.97 58.37,257.98 59.81,261.98 61.26,266.24 62.70,270.00 64.14,273.79 65.62,278.11 67.09,282.17 68.50,285.19 69.80,286.40 70.96,285.26 72.02,282.28 73.02,278.28 74.00,274.05 75.00,270.40 76.00,266.84 76.96,262.84 77.94,259.12 78.97,256.40 80.10,255.40 81.36,256.60 82.71,259.53 84.12,263.45 85.57,267.65 87.00,271.40 88.47,275.23 89.99,279.63 91.50,283.79 92.96,286.91 94.30,288.20 95.49,287.11 96.56,284.18 97.58,280.21 98.57,276.02 99.60,272.40 100.69,269.01 101.80,265.32 102.90,261.84 103.94,259.10 104.90,257.60 105.74,257.67 106.50,258.96 107.20,260.99 107.89,263.30 108.60,265.40 109.40,267.51 110.26,269.95 111.09,272.39 111.80,274.51 112.30,276.00 112.30,281.20 111.80,279.71 111.09,277.59 110.26,275.15 109.40,272.71 108.60,270.60 107.89,268.50 107.20,266.19 106.50,264.16 105.74,262.87 104.90,262.80 103.94,264.30 102.90,267.04 101.80,270.52 100.69,274.21 99.60,277.60 98.57,281.22 97.58,285.41 96.56,289.38 95.49,292.31 94.30,293.40 92.96,292.11 91.50,288.99 89.99,284.83 88.47,280.43 87.00,276.60 85.57,272.85 84.12,268.65 82.71,264.73 81.36,261.80 80.10,260.60 78.97,261.60 77.94,264.32 76.96,268.04 76.00,272.04 75.00,275.60 74.00,279.25 73.02,283.48 72.02,287.48 70.96,290.46 69.80,291.60 68.50,290.39 67.09,287.37 65.62,283.31 64.14,278.99 62.70,275.20 61.26,271.44 59.81,267.18 58.37,263.18 56.98,260.17 55.70,258.90 54.54,259.86 53.49,262.55 52.49,266.24 51.50,270.17 50.50,273.60 49.48,276.99 48.47,280.85 47.46,284.47 46.44,287.15 45.40,288.20 44.34,287.18 43.28,284.55 42.20,280.97 41.10,277.10 40.00,273.60 38.83,270.23 37.59,266.55 36.37,262.92 35.25,259.68 34.30,257.20 33.54,255.62 32.91,254.70 32.40,254.23 32.00,253.97 31.70,253.70" fill="#e8b7a8" fill-opacity="1.0"/>
<polyline points="31.70,251.10 32.00,251.37 32.40,251.63 32.91,252.10 33.54,253.02 34.30,254.60 35.25,257.08 36.37,260.32 37.59,263.95 38.83,267.63 40.00,271.00 41.10,274.50 42.20,278.37 43.28,281.95 44.34,284.58 45.40,285.60 46.44,284.55 47.46,281.87 48.47,278.25 49.48,274.39 50.50,271.00 51.50,267.57 52.49,263.64 53.49,259.95 54.54,257.26 55.70,256.30 56.98,257.57 58.37,260.58 59.81,264.58 61.26,268.84 62.70,272.60 64.14,276.39 65.62,280.71 67.09,284.77 68.50,287.79 69.80,289.00 70.96,287.86 72.02,284.88 73.02,280.88 74.00,276.65 75.00,273.00 76.00,269.44 76.96,265.44 77.94,261.72 78.97,259.00 80.10,258.00 81.36,259.20 82.71,262.13 84.12,266.05 85.57,270.25 87.00,274.00 88.47,277.83 89.99,282.23 91.50,286.39 92.96,289.51 94.30,290.80 95.49,289.71 96.56,286.78 97.58,282.81 98.57,278.62 99.60,275.00 100.69,271.61 101.80,267.92 102.90,264.44 103.94,261.70 104.90,260.20 105.74,260.27 106.50,261.56 107.20,263.59 107.89,265.90 108.60,268.00 109.40,270.11 110.26,272.55 111.09,274.99 111.80,277.11 112.30,278.60" fill="none" stroke="#b5381b" stroke-width="1.7" stroke-linejoin="round" stroke-linecap="round" />
<line x1="31.50" y1="197.80" x2="31.50" y2="314.65" stroke="#262626" stroke-width="0.9" />
<line x1="31.50" y1="314.20" x2="33.50" y2="314.20" stroke="#262626" stroke-width="0.8" />
<text x="30.80" y="318.50" font-size="10" text-anchor="end" font-weight="normal" fill="#262626" letter-spacing="0.4" >0.5</text>
<line x1="31.50" y1="269.70" x2="33.50" y2="269.70" stroke="#262626" stroke-width="0.8" />
<text x="30.80" y="274.00" font-size="10" text-anchor="end" font-weight="normal" fill="#262626" letter-spacing="0.4" >1</text>
<line x1="31.50" y1="225.20" x2="33.50" y2="225.20" stroke="#262626" stroke-width="0.8" />
<text x="30.80" y="229.50" font-size="10" text-anchor="end" font-weight="normal" fill="#262626" letter-spacing="0.4" >1.5</text>
<line x1="31.05" y1="314.50" x2="112.80" y2="314.50" stroke="#262626" stroke-width="0.9" />
<line x1="41.00" y1="314.50" x2="41.00" y2="312.50" stroke="#262626" stroke-width="0.8" />
<text x="41.20" y="327.60" font-size="10" text-anchor="middle" font-weight="normal" fill="#262626" letter-spacing="0.4" >−0.2</text>
<line x1="65.70" y1="314.50" x2="65.70" y2="312.50" stroke="#262626" stroke-width="0.8" />
<text x="65.90" y="327.60" font-size="10" text-anchor="middle" font-weight="normal" fill="#262626" letter-spacing="0.4" >0</text>
<line x1="90.40" y1="314.50" x2="90.40" y2="312.50" stroke="#262626" stroke-width="0.8" />
<text x="90.60" y="327.60" font-size="10" text-anchor="middle" font-weight="normal" fill="#262626" letter-spacing="0.4" >0.2</text>
<text x="35.40" y="209.00" font-size="12" text-anchor="start" font-weight="normal" fill="#262626" letter-spacing="0.9" >N=8</text>
<text x="28.40" y="342.30" font-size="11.5" text-anchor="start" font-weight="normal" fill="#262626" >t</text>
<text x="32.00" y="347.80" font-size="9.7" text-anchor="start" font-weight="normal" fill="#262626" >Stimulus Onset</text>
<text x="101.40" y="342.30" font-size="12.2" text-anchor="start" font-weight="normal" fill="#262626" >(s)</text>
<text transform="translate(9.50,256.00) rotate(-90)" font-size="11" text-anchor="middle" fill="#262626" letter-spacing="0.45" word-spacing="1.5">FME (a.u.)</text>
<text x="124.60" y="185.70" font-size="14" text-anchor="start" font-weight="normal" fill="#000" >E</text>
<text x="149.20" y="185.40" font-size="12" text-anchor="start" font-weight="bold" fill="#000" letter-spacing="0.25" >Omission</text>
<rect x="144.60" y="197.80" width="6.10" height="116.40" fill="#eeeeee" />
<rect x="161.10" y="197.80" width="5.60" height="116.40" fill="#eeeeee" />
<rect x="192.40" y="197.80" width="6.10" height="116.40" fill="#eeeeee" />
<rect x="209.00" y="197.80" width="6.10" height="116.40" fill="#eeeeee" />
<line x1="176.70" y1="198.30" x2="176.70" y2="314.20" stroke="#a8a8a8" stroke-width="1.8" stroke-dasharray="1.9 2.3"/>
<line x1="182.60" y1="198.30" x2="182.60" y2="314.20" stroke="#a8a8a8" stroke-width="1.8" stroke-dasharray="1.9 2.3"/>
<polygon points="136.50,246.50 137.38,249.42 138.64,253.61 140.08,258.36 141.50,263.00 142.96,268.21 144.53,274.08 146.03,278.98 147.30,281.30 148.24,280.04 148.96,276.24 149.60,271.40 150.30,267.00 151.06,262.60 151.81,257.68 152.60,253.62 153.50,251.80 154.53,253.04 155.65,256.46 156.82,260.84 158.00,265.00 159.21,269.53 160.46,274.77 161.68,279.10 162.80,280.90 163.76,279.18 164.62,274.99 165.44,269.78 166.30,265.00 167.22,260.24 168.15,254.99 169.08,250.57 170.00,248.30 170.88,248.95 171.75,251.66 172.62,255.37 173.50,259.00 174.35,262.36 175.18,266.00 176.09,269.91 177.20,274.10 178.62,279.00 180.27,284.47 181.94,289.63 183.40,293.60 184.55,295.93 185.52,297.16 186.45,297.91 187.50,298.80 188.75,300.01 190.11,301.20 191.44,302.22 192.60,302.90 193.54,303.68 194.34,304.47 195.04,304.39 195.70,302.50 196.30,298.50 196.82,292.90 197.31,286.02 197.80,278.20 198.28,268.20 198.74,256.73 199.23,245.05 199.80,234.40 200.44,224.06 201.14,213.70 201.92,205.22 202.80,200.50 203.82,203.65 204.95,211.00 206.13,220.06 207.30,228.35 208.49,235.50 209.72,242.64 210.89,248.64 211.90,251.70 212.68,250.67 213.31,246.74 213.88,241.61 214.50,237.00 215.27,232.82 216.11,228.33 216.87,224.30 217.40,221.50 217.40,227.50 216.87,230.30 216.11,234.33 215.27,238.82 214.50,243.00 213.88,247.61 213.31,252.74 212.68,256.67 211.90,257.70 210.89,254.64 209.72,248.64 208.49,241.50 207.30,235.25 206.13,229.07 204.95,222.13 203.82,216.82 202.80,215.50 201.92,218.64 201.14,225.72 200.44,234.82 199.80,244.00 199.23,253.62 198.74,264.43 198.28,275.07 197.80,284.20 197.31,292.02 196.82,298.90 196.30,304.50 195.70,308.50 195.04,310.39 194.34,310.47 193.54,309.68 192.60,308.90 191.44,308.22 190.11,307.20 188.75,306.01 187.50,304.80 186.45,303.91 185.52,303.16 184.55,301.93 183.40,299.60 181.94,295.63 180.27,290.47 178.62,285.00 177.20,280.10 176.09,275.91 175.18,272.00 174.35,268.36 173.50,265.00 172.62,261.37 171.75,257.66 170.88,254.95 170.00,254.30 169.08,256.57 168.15,260.99 167.22,266.24 166.30,271.00 165.44,275.78 164.62,280.99 163.76,285.18 162.80,286.90 161.68,285.10 160.46,280.77 159.21,275.53 158.00,271.00 156.82,266.84 155.65,262.46 154.53,259.04 153.50,257.80 152.60,259.62 151.81,263.68 151.06,268.60 150.30,273.00 149.60,277.40 148.96,282.24 148.24,286.04 147.30,287.30 146.03,284.98 144.53,280.08 142.96,274.21 141.50,269.00 140.08,264.36 138.64,259.61 137.38,255.42 136.50,252.50" fill="#e8b7a8" fill-opacity="1.0"/>
<polyline points="136.50,249.50 137.38,252.42 138.64,256.61 140.08,261.36 141.50,266.00 142.96,271.21 144.53,277.08 146.03,281.98 147.30,284.30 148.24,283.04 148.96,279.24 149.60,274.40 150.30,270.00 151.06,265.60 151.81,260.68 152.60,256.62 153.50,254.80 154.53,256.04 155.65,259.46 156.82,263.84 158.00,268.00 159.21,272.53 160.46,277.77 161.68,282.10 162.80,283.90 163.76,282.18 164.62,277.99 165.44,272.78 166.30,268.00 167.22,263.24 168.15,257.99 169.08,253.57 170.00,251.30 170.88,251.95 171.75,254.66 172.62,258.37 173.50,262.00 174.35,265.36 175.18,269.00 176.09,272.91 177.20,277.10 178.62,282.00 180.27,287.47 181.94,292.63 183.40,296.60 184.55,298.93 185.52,300.16 186.45,300.91 187.50,301.80 188.75,303.01 190.11,304.20 191.44,305.22 192.60,305.90 193.54,306.68 194.34,307.47 195.04,307.39 195.70,305.50 196.30,301.50 196.82,295.90 197.31,289.02 197.80,281.20 198.28,271.83 198.74,260.96 199.23,249.91 199.80,240.00 200.44,230.49 201.14,221.05 201.92,213.58 202.80,210.00 203.82,211.83 204.95,217.71 206.13,225.23 207.30,232.00 208.49,238.50 209.72,245.64 210.89,251.64 211.90,254.70 212.68,253.67 213.31,249.74 213.88,244.61 214.50,240.00 215.27,235.82 216.11,231.33 216.87,227.30 217.40,224.50" fill="none" stroke="#b5381b" stroke-width="1.7" stroke-linejoin="round" stroke-linecap="round" />
<line x1="136.50" y1="197.80" x2="136.50" y2="314.65" stroke="#262626" stroke-width="0.9" />
<line x1="136.50" y1="314.20" x2="138.50" y2="314.20" stroke="#262626" stroke-width="0.8" />
<text x="135.70" y="318.50" font-size="10" text-anchor="end" font-weight="normal" fill="#262626" letter-spacing="0.4" >0.5</text>
<line x1="136.50" y1="269.70" x2="138.50" y2="269.70" stroke="#262626" stroke-width="0.8" />
<text x="135.70" y="274.00" font-size="10" text-anchor="end" font-weight="normal" fill="#262626" letter-spacing="0.4" >1</text>
<line x1="136.50" y1="225.20" x2="138.50" y2="225.20" stroke="#262626" stroke-width="0.8" />
<text x="135.70" y="229.50" font-size="10" text-anchor="end" font-weight="normal" fill="#262626" letter-spacing="0.4" >1.5</text>
<line x1="136.05" y1="314.50" x2="217.20" y2="314.50" stroke="#262626" stroke-width="0.9" />
<line x1="136.50" y1="314.50" x2="136.50" y2="312.50" stroke="#262626" stroke-width="0.8" />
<text x="136.70" y="327.60" font-size="10" text-anchor="middle" font-weight="normal" fill="#262626" letter-spacing="0.4" >−0.5</text>
<line x1="176.50" y1="314.50" x2="176.50" y2="312.50" stroke="#262626" stroke-width="0.8" />
<text x="176.70" y="327.60" font-size="10" text-anchor="middle" font-weight="normal" fill="#262626" letter-spacing="0.4" >0</text>
<line x1="216.50" y1="314.50" x2="216.50" y2="312.50" stroke="#262626" stroke-width="0.8" />
<text x="216.70" y="327.60" font-size="10" text-anchor="middle" font-weight="normal" fill="#262626" letter-spacing="0.4" >0.5</text>
<line x1="170.30" y1="201.60" x2="203.00" y2="201.60" stroke="#333" stroke-width="0.9" />
<circle cx="170.5" cy="201.6" r="0.8" fill="#333"/><circle cx="202.8" cy="201.6" r="0.8" fill="#333"/>
<text x="186.40" y="212.80" font-size="13.5" text-anchor="middle" font-weight="bold" fill="#111" >**</text>
<text x="140.10" y="209.00" font-size="12" text-anchor="start" font-weight="normal" fill="#262626" letter-spacing="0.9" >N=8</text>
<text x="132.20" y="342.30" font-size="11.5" text-anchor="start" font-weight="normal" fill="#262626" >t</text>
<text x="136.40" y="347.80" font-size="9.7" text-anchor="start" font-weight="normal" fill="#262626" >Omission Onset</text>
<text x="207.90" y="342.30" font-size="12.2" text-anchor="start" font-weight="normal" fill="#262626" >(s)</text>
<text x="228.70" y="185.70" font-size="14" text-anchor="start" font-weight="normal" fill="#000" >F</text>
<text x="250.00" y="185.40" font-size="12" text-anchor="start" font-weight="bold" fill="#000" letter-spacing="0.25" >Adaptation</text>
<polygon points="241.50,200.30 247.27,218.30 253.04,236.30 258.81,246.30 264.58,253.10 270.35,260.40 276.12,260.40 281.89,261.00 287.66,261.30 293.43,259.50 299.20,258.10 304.97,250.60 310.74,255.40 316.51,258.40 322.28,248.60 322.28,266.60 316.51,272.40 310.74,269.40 304.97,266.60 299.20,270.10 293.43,269.50 287.66,270.30 281.89,270.00 276.12,269.40 270.35,269.40 264.58,262.10 258.81,256.30 253.04,248.30 247.27,232.30 241.50,216.30" fill="#e8b7a8" fill-opacity="1.0"/>
<polyline points="241.50,208.30 247.27,225.30 253.04,242.30 258.81,251.30 264.58,257.60 270.35,264.90 276.12,264.90 281.89,265.50 287.66,265.80 293.43,264.50 299.20,264.10 304.97,258.60 310.74,262.40 316.51,265.40 322.28,257.60" fill="none" stroke="#b5381b" stroke-width="1.7" stroke-linejoin="round" stroke-linecap="round" />
<line x1="241.50" y1="197.80" x2="241.50" y2="314.65" stroke="#262626" stroke-width="0.9" />
<line x1="241.50" y1="314.20" x2="243.50" y2="314.20" stroke="#262626" stroke-width="0.8" />
<text x="240.70" y="318.50" font-size="10" text-anchor="end" font-weight="normal" fill="#262626" letter-spacing="0.4" >0.5</text>
<line x1="241.50" y1="269.70" x2="243.50" y2="269.70" stroke="#262626" stroke-width="0.8" />
<text x="240.70" y="274.00" font-size="10" text-anchor="end" font-weight="normal" fill="#262626" letter-spacing="0.4" >1</text>
<line x1="241.50" y1="225.20" x2="243.50" y2="225.20" stroke="#262626" stroke-width="0.8" />
<text x="240.70" y="229.50" font-size="10" text-anchor="end" font-weight="normal" fill="#262626" letter-spacing="0.4" >1.5</text>
<line x1="241.05" y1="314.50" x2="321.90" y2="314.50" stroke="#262626" stroke-width="0.9" />
<line x1="264.58" y1="314.50" x2="264.58" y2="312.50" stroke="#262626" stroke-width="0.8" />
<text x="264.78" y="327.60" font-size="10" text-anchor="middle" font-weight="normal" fill="#262626" letter-spacing="0.4" >5</text>
<line x1="293.43" y1="314.50" x2="293.43" y2="312.50" stroke="#262626" stroke-width="0.8" />
<text x="293.63" y="327.60" font-size="10" text-anchor="middle" font-weight="normal" fill="#262626" letter-spacing="0.4" >10</text>
<line x1="322.28" y1="314.50" x2="322.28" y2="312.50" stroke="#262626" stroke-width="0.8" />
<text x="322.48" y="327.60" font-size="10" text-anchor="middle" font-weight="normal" fill="#262626" letter-spacing="0.4" >15</text>
<text x="244.20" y="209.00" font-size="12" text-anchor="start" font-weight="normal" fill="#262626" letter-spacing="0.9" >N=8</text>
<text x="245.00" y="307.00" font-size="11" text-anchor="start" font-weight="normal" fill="#262626" letter-spacing="0.2" >p &lt; 0.001</text>
<text x="232.10" y="341.50" font-size="9.5" text-anchor="start" font-weight="normal" fill="#262626" >Stim. after Omission (#)</text>
<text x="333.90" y="185.70" font-size="14" text-anchor="start" font-weight="normal" fill="#000" >G</text>
<text x="402.70" y="184.80" font-size="12" text-anchor="start" font-weight="bold" fill="#000" letter-spacing="0.25" >Post-Omission</text>
<rect x="354.10" y="197.80" width="5.30" height="116.40" fill="#eeeeee" />
<rect x="369.70" y="197.80" width="5.60" height="116.40" fill="#eeeeee" />
<rect x="403.50" y="197.80" width="5.10" height="116.40" fill="#eeeeee" />
<rect x="418.40" y="197.80" width="5.80" height="116.40" fill="#eeeeee" />
<line x1="386.40" y1="198.30" x2="386.40" y2="314.20" stroke="#a8a8a8" stroke-width="1.8" stroke-dasharray="1.9 2.3"/>
<line x1="392.20" y1="198.30" x2="392.20" y2="314.20" stroke="#a8a8a8" stroke-width="1.8" stroke-dasharray="1.9 2.3"/>
<line x1="394.70" y1="203.30" x2="402.50" y2="203.30" stroke="#666" stroke-width="2.0" />
<line x1="408.90" y1="203.30" x2="414.70" y2="203.30" stroke="#666" stroke-width="2.0" />
<polyline points="346.30,292.15 346.80,292.90 347.48,293.76 348.29,294.93 349.18,295.38 350.10,296.44 351.00,295.06 351.90,296.07 352.84,297.00 353.82,296.24 354.81,296.40 355.81,294.31 356.80,294.34 357.82,292.81 358.89,291.89 359.96,290.27 361.00,287.56 361.96,286.74 362.80,286.26 363.47,287.69 363.99,288.11 364.43,287.98 364.87,290.49 365.37,290.36 366.00,292.23 366.76,292.10 367.60,292.83 368.49,295.49 369.45,294.85 370.45,295.11 371.50,296.26 372.61,294.88 373.79,291.89 375.01,290.97 376.27,287.66 377.54,285.51 378.80,282.41 380.06,281.77 381.34,278.95 382.64,277.23 383.93,275.07 385.22,272.37 386.50,271.72 387.77,271.46 389.03,272.29 390.29,273.51 391.54,275.60 392.78,277.83 394.00,278.01 395.23,280.56 396.48,281.12 397.72,282.31 398.91,284.53 400.01,284.97 401.00,285.63 401.85,287.17 402.59,289.15 403.25,289.30 403.85,292.10 404.43,290.27 405.00,290.50 405.54,287.90 406.01,282.15 406.45,278.70 406.90,272.40 407.41,267.31 408.00,261.02 408.71,255.72 409.51,249.95 410.36,245.41 411.21,238.36 412.04,235.10 412.80,232.86 413.47,232.27 414.09,231.99 414.67,234.08 415.25,237.31 415.85,241.14 416.50,243.22 417.19,248.84 417.91,254.67 418.65,260.97 419.41,265.00 420.19,271.05 421.00,271.18 421.90,270.41 422.90,267.18 423.93,262.59 424.90,255.83 425.71,252.06 426.30,248.09" fill="none" stroke="#7a1712" stroke-width="1.25" stroke-linejoin="round" stroke-linecap="round" />
<polyline points="346.30,224.22 346.80,226.56 347.48,229.59 348.29,233.27 349.18,237.44 350.10,242.29 351.00,245.99 351.90,247.19 352.84,250.02 353.82,254.69 354.81,255.86 355.81,256.52 356.80,255.47 357.82,253.19 358.89,248.60 359.96,241.63 361.00,235.07 361.96,228.46 362.80,225.83 363.47,220.89 363.99,219.02 364.43,217.55 364.87,214.84 365.37,215.83 366.00,217.40 366.76,220.32 367.60,226.67 368.49,232.43 369.45,239.94 370.45,244.59 371.50,248.19 372.61,245.14 373.79,240.20 375.01,234.40 376.27,227.24 377.54,222.30 378.80,219.41 380.06,221.51 381.34,226.70 382.64,232.58 383.93,239.29 385.22,246.30 386.50,251.29 387.77,256.19 389.03,261.61 390.29,265.45 391.54,268.35 392.78,271.26 394.00,273.68 395.23,275.33 396.48,277.29 397.72,279.50 398.91,280.66 400.01,280.61 401.00,282.57 401.85,284.17 402.59,286.06 403.25,288.02 403.85,289.74 404.43,289.54 405.00,289.41 405.54,286.13 406.01,282.82 406.45,278.73 406.90,273.31 407.41,267.00 408.00,262.89 408.71,256.26 409.51,249.05 410.36,240.59 411.21,234.87 412.04,228.83 412.80,226.34 413.47,225.12 414.09,227.00 414.67,229.17 415.25,232.67 415.85,235.02 416.50,238.29 417.19,241.04 417.91,244.29 418.65,246.45 419.41,250.17 420.19,252.12 421.00,252.38 421.90,251.84 422.90,249.21 423.93,244.91 424.90,241.32 425.71,237.42 426.30,236.67" fill="none" stroke="#861a13" stroke-width="1.25" stroke-linejoin="round" stroke-linecap="round" />
<polyline points="346.30,238.67 346.80,239.35 347.48,242.02 348.29,244.71 349.18,247.51 350.10,249.06 351.00,252.56 351.90,254.44 352.84,257.16 353.82,259.10 354.81,261.44 355.81,262.78 356.80,262.27 357.82,260.42 358.89,255.43 359.96,251.20 361.00,247.07 361.96,243.30 362.80,239.44 363.47,238.36 363.99,236.63 364.43,234.33 364.87,234.68 365.37,234.41 366.00,235.11 366.76,237.98 367.60,242.82 368.49,247.74 369.45,252.65 370.45,255.88 371.50,257.93 372.61,255.72 373.79,251.56 375.01,245.56 376.27,238.81 377.54,235.26 378.80,231.00 380.06,231.95 381.34,233.48 382.64,236.70 383.93,239.75 385.22,245.05 386.50,247.75 387.77,250.78 389.03,256.19 390.29,259.63 391.54,264.91 392.78,268.45 394.00,272.16 395.23,275.34 396.48,276.93 397.72,277.59 398.91,279.55 400.01,280.25 401.00,280.74 401.85,281.60 402.59,284.04 403.25,285.38 403.85,287.06 404.43,287.12 405.00,285.22 405.54,282.10 406.01,279.42 406.45,273.00 406.90,268.03 407.41,263.51 408.00,258.23 408.71,251.22 409.51,245.07 410.36,238.22 411.21,230.38 412.04,225.07 412.80,221.45 413.47,220.88 414.09,223.46 414.67,224.88 415.25,229.51 415.85,233.22 416.50,236.19 417.19,239.71 417.91,246.52 418.65,251.24 419.41,256.28 420.19,259.94 421.00,262.97 421.90,260.84 422.90,256.98 423.93,252.58 424.90,246.73 425.71,243.19 426.30,239.89" fill="none" stroke="#9c2015" stroke-width="1.25" stroke-linejoin="round" stroke-linecap="round" />
<polyline points="346.30,242.59 346.80,245.69 347.48,248.76 348.29,250.65 349.18,255.40 350.10,258.45 351.00,262.87 351.90,265.63 352.84,267.94 353.82,271.22 354.81,273.64 355.81,276.90 356.80,275.59 357.82,274.11 358.89,269.80 359.96,265.04 361.00,259.69 361.96,255.42 362.80,251.24 363.47,251.09 363.99,249.51 364.43,250.03 364.87,250.37 365.37,251.65 366.00,254.06 366.76,257.24 367.60,261.92 368.49,268.20 369.45,273.09 370.45,275.93 371.50,278.10 372.61,277.18 373.79,274.26 375.01,269.11 376.27,263.33 377.54,258.40 378.80,258.56 380.06,259.39 381.34,263.22 382.64,268.25 383.93,273.35 385.22,278.03 386.50,282.82 387.77,284.79 389.03,287.52 390.29,290.89 391.54,291.76 392.78,293.90 394.00,296.66 395.23,296.53 396.48,299.15 397.72,299.70 398.91,299.83 400.01,300.08 401.00,301.56 401.85,302.78 402.59,302.69 403.25,304.71 403.85,305.47 404.43,304.65 405.00,301.66 405.54,296.18 406.01,289.84 406.45,281.75 406.90,271.14 407.41,262.50 408.00,255.64 408.71,247.72 409.51,239.03 410.36,229.49 411.21,223.52 412.04,218.31 412.80,215.00 413.47,213.78 414.09,214.06 414.67,218.87 415.25,221.92 415.85,227.57 416.50,232.90 417.19,238.22 417.91,244.60 418.65,252.96 419.41,261.50 420.19,265.26 421.00,268.22 421.90,265.58 422.90,259.32 423.93,252.49 424.90,243.09 425.71,235.97 426.30,231.76" fill="none" stroke="#b42a18" stroke-width="1.25" stroke-linejoin="round" stroke-linecap="round" />
<polyline points="346.30,249.14 346.80,250.88 347.48,254.37 348.29,257.61 349.18,260.98 350.10,262.53 351.00,265.86 351.90,268.51 352.84,272.39 353.82,275.42 354.81,279.03 355.81,279.58 356.80,279.11 357.82,278.41 358.89,273.45 359.96,269.51 361.00,264.20 361.96,260.64 362.80,257.11 363.47,255.86 363.99,254.49 364.43,255.10 364.87,255.21 365.37,257.55 366.00,259.03 366.76,261.65 367.60,266.84 368.49,272.74 369.45,278.77 370.45,281.65 371.50,284.43 372.61,282.83 373.79,277.61 375.01,273.40 376.27,266.85 377.54,262.80 378.80,262.19 380.06,262.94 381.34,267.75 382.64,271.77 383.93,276.76 385.22,282.70 386.50,285.06 387.77,289.36 389.03,290.59 390.29,293.05 391.54,296.64 392.78,297.84 394.00,298.45 395.23,299.45 396.48,302.06 397.72,302.08 398.91,302.86 400.01,301.89 401.00,303.25 401.85,303.63 402.59,304.88 403.25,306.48 403.85,307.71 404.43,306.46 405.00,303.77 405.54,297.93 406.01,291.81 406.45,282.55 406.90,273.35 407.41,263.26 408.00,255.70 408.71,246.77 409.51,238.00 410.36,229.21 411.21,221.78 412.04,215.13 412.80,211.19 413.47,210.81 414.09,213.40 414.67,217.14 415.25,224.00 415.85,228.73 416.50,234.52 417.19,239.07 417.91,247.72 418.65,256.65 419.41,263.35 420.19,268.09 421.00,269.93 421.90,266.47 422.90,260.12 423.93,251.57 424.90,242.93 425.71,235.00 426.30,230.76" fill="none" stroke="#c9361b" stroke-width="1.25" stroke-linejoin="round" stroke-linecap="round" />
<polyline points="346.30,259.30 346.80,260.81 347.48,262.67 348.29,264.57 349.18,267.13 350.10,269.33 351.00,271.96 351.90,273.43 352.84,278.02 353.82,279.71 354.81,283.21 355.81,284.20 356.80,284.35 357.82,282.25 358.89,279.87 359.96,274.02 361.00,270.80 361.96,266.37 362.80,264.85 363.47,263.92 363.99,262.34 364.43,262.62 364.87,263.14 365.37,265.14 366.00,267.16 366.76,271.83 367.60,278.85 368.49,284.23 369.45,290.27 370.45,295.14 371.50,296.57 372.61,295.44 373.79,290.27 375.01,282.42 376.27,275.76 377.54,271.25 378.80,269.38 380.06,269.86 381.34,272.84 382.64,278.79 383.93,282.25 385.22,287.38 386.50,292.56 387.77,294.34 389.03,295.65 390.29,298.32 391.54,300.59 392.78,300.87 394.00,301.70 395.23,302.25 396.48,303.07 397.72,305.42 398.91,305.17 400.01,306.51 401.00,305.11 401.85,306.34 402.59,307.40 403.25,309.42 403.85,309.27 404.43,308.68 405.00,305.81 405.54,299.59 406.01,290.64 406.45,280.67 406.90,272.02 407.41,260.26 408.00,252.02 408.71,243.39 409.51,234.82 410.36,225.45 411.21,218.54 412.04,212.61 412.80,210.58 413.47,211.71 414.09,214.22 414.67,219.74 415.25,224.41 415.85,229.98 416.50,236.08 417.19,241.00 417.91,247.07 418.65,252.60 419.41,258.16 420.19,261.70 421.00,262.83 421.90,258.79 422.90,253.16 423.93,246.28 424.90,237.08 425.71,229.87 426.30,225.62" fill="none" stroke="#e0561e" stroke-width="1.25" stroke-linejoin="round" stroke-linecap="round" />
<polyline points="346.30,262.18 346.80,264.74 347.48,266.47 348.29,267.41 349.18,269.15 350.10,271.17 351.00,273.49 351.90,275.42 352.84,278.80 353.82,281.81 354.81,283.44 355.81,284.49 356.80,285.90 357.82,282.87 358.89,279.83 359.96,275.79 361.00,271.65 361.96,267.45 362.80,265.84 363.47,264.65 363.99,265.19 364.43,265.11 364.87,266.77 365.37,267.95 366.00,270.52 366.76,274.14 367.60,279.66 368.49,286.88 369.45,292.59 370.45,297.65 371.50,298.96 372.61,296.91 373.79,290.98 375.01,285.44 376.27,277.88 377.54,272.10 378.80,269.63 380.06,270.94 381.34,274.58 382.64,280.29 383.93,284.90 385.22,289.45 386.50,294.53 387.77,296.51 389.03,297.31 390.29,298.82 391.54,300.17 392.78,301.67 394.00,303.72 395.23,304.90 396.48,305.08 397.72,305.02 398.91,306.01 400.01,306.35 401.00,306.66 401.85,306.89 402.59,309.50 403.25,311.34 403.85,311.68 404.43,309.42 405.00,307.06 405.54,300.20 406.01,292.67 406.45,282.00 406.90,272.26 407.41,261.62 408.00,251.24 408.71,243.11 409.51,235.37 410.36,225.90 411.21,218.43 412.04,212.96 412.80,210.84 413.47,211.84 414.09,214.67 414.67,221.11 415.25,226.81 415.85,232.12 416.50,238.63 417.19,242.51 417.91,247.01 418.65,253.94 419.41,256.24 420.19,259.91 421.00,259.96 421.90,257.70 422.90,250.75 423.93,242.81 424.90,235.04 425.71,227.99 426.30,224.12" fill="none" stroke="#ea6e20" stroke-width="1.25" stroke-linejoin="round" stroke-linecap="round" />
<polyline points="346.30,264.71 346.80,266.70 347.48,267.35 348.29,269.55 349.18,271.46 350.10,275.03 351.00,276.68 351.90,278.82 352.84,280.87 353.82,282.93 354.81,284.49 355.81,287.13 356.80,286.48 357.82,283.84 358.89,280.82 359.96,276.57 361.00,273.62 361.96,270.45 362.80,266.90 363.47,267.22 363.99,266.07 364.43,267.24 364.87,268.69 365.37,269.92 366.00,272.60 366.76,275.58 367.60,280.35 368.49,287.49 369.45,293.34 370.45,296.73 371.50,298.78 372.61,296.67 373.79,291.17 375.01,285.31 376.27,278.99 377.54,274.13 378.80,272.41 380.06,273.03 381.34,277.78 382.64,282.44 383.93,288.14 385.22,292.72 386.50,296.34 387.77,298.38 389.03,300.60 390.29,300.98 391.54,302.41 392.78,303.44 394.00,304.04 395.23,304.52 396.48,304.95 397.72,305.71 398.91,306.86 400.01,307.80 401.00,308.52 401.85,309.22 402.59,309.74 403.25,312.20 403.85,311.31 404.43,311.13 405.00,306.64 405.54,302.02 406.01,293.51 406.45,284.26 406.90,273.74 407.41,263.24 408.00,254.68 408.71,246.00 409.51,236.78 410.36,227.32 411.21,220.42 412.04,215.61 412.80,211.48 413.47,213.63 414.09,216.46 414.67,221.79 415.25,227.52 415.85,234.65 416.50,239.36 417.19,245.03 417.91,250.84 418.65,256.01 419.41,259.63 420.19,261.71 421.00,261.22 421.90,258.96 422.90,252.18 423.93,244.31 424.90,235.12 425.71,228.72 426.30,222.43" fill="none" stroke="#f28a23" stroke-width="1.25" stroke-linejoin="round" stroke-linecap="round" />
<line x1="346.50" y1="197.80" x2="346.50" y2="314.65" stroke="#262626" stroke-width="0.9" />
<line x1="346.50" y1="310.40" x2="348.50" y2="310.40" stroke="#262626" stroke-width="0.8" />
<text x="345.20" y="314.70" font-size="10" text-anchor="end" font-weight="normal" fill="#262626" letter-spacing="0.4" >0.5</text>
<line x1="346.50" y1="275.20" x2="348.50" y2="275.20" stroke="#262626" stroke-width="0.8" />
<text x="345.20" y="279.50" font-size="10" text-anchor="end" font-weight="normal" fill="#262626" letter-spacing="0.4" >1</text>
<line x1="346.50" y1="240.00" x2="348.50" y2="240.00" stroke="#262626" stroke-width="0.8" />
<text x="345.20" y="244.30" font-size="10" text-anchor="end" font-weight="normal" fill="#262626" letter-spacing="0.4" >1.5</text>
<line x1="346.50" y1="204.80" x2="348.50" y2="204.80" stroke="#262626" stroke-width="0.8" />
<text x="345.20" y="209.10" font-size="10" text-anchor="end" font-weight="normal" fill="#262626" letter-spacing="0.4" >2</text>
<line x1="346.05" y1="314.50" x2="426.50" y2="314.50" stroke="#262626" stroke-width="0.9" />
<line x1="346.30" y1="314.50" x2="346.30" y2="312.50" stroke="#262626" stroke-width="0.8" />
<text x="346.50" y="327.60" font-size="10" text-anchor="middle" font-weight="normal" fill="#262626" letter-spacing="0.4" >−0.5</text>
<line x1="386.30" y1="314.50" x2="386.30" y2="312.50" stroke="#262626" stroke-width="0.8" />
<text x="386.50" y="327.60" font-size="10" text-anchor="middle" font-weight="normal" fill="#262626" letter-spacing="0.4" >0</text>
<line x1="426.30" y1="314.50" x2="426.30" y2="312.50" stroke="#262626" stroke-width="0.8" />
<text x="426.50" y="327.60" font-size="10" text-anchor="middle" font-weight="normal" fill="#262626" letter-spacing="0.4" >0.5</text>
<text x="349.70" y="209.00" font-size="12" text-anchor="start" font-weight="normal" fill="#262626" letter-spacing="0.9" >N=8</text>
<text x="341.40" y="342.30" font-size="11.5" text-anchor="start" font-weight="normal" fill="#262626" >t</text>
<text x="345.10" y="347.80" font-size="9.7" text-anchor="start" font-weight="normal" fill="#262626" >Omission Onset</text>
<text x="417.00" y="342.30" font-size="12.2" text-anchor="start" font-weight="normal" fill="#262626" >(s)</text>
<polygon points="473.50,288.70 481.59,288.70 489.68,263.70 497.77,231.90 505.86,248.00 513.95,229.30 522.04,198.40 530.13,207.30 538.22,207.90 546.31,226.70 546.31,253.30 538.22,243.90 530.13,234.40 522.04,223.30 513.95,250.00 505.86,269.00 497.77,257.50 489.68,289.80 481.59,314.00 473.50,314.00" fill="#b9bce6" />
<polyline points="473.50,301.30 481.59,301.30 489.68,275.20 497.77,244.80 505.86,259.70 513.95,239.90 522.04,210.40 530.13,220.70 538.22,226.70 546.31,242.10" fill="none" stroke="#1c1ca0" stroke-width="1.5" stroke-linejoin="round" stroke-linecap="round" />
<circle cx="473.50" cy="301.30" r="3.9" fill="#6e1410"/>
<circle cx="481.59" cy="301.30" r="3.9" fill="#a3200f"/>
<circle cx="489.68" cy="275.20" r="3.9" fill="#c52f1b"/>
<circle cx="497.77" cy="244.80" r="3.9" fill="#d93f20"/>
<circle cx="505.86" cy="259.70" r="3.9" fill="#e24a21"/>
<circle cx="513.95" cy="239.90" r="3.9" fill="#e65b24"/>
<circle cx="522.04" cy="210.40" r="3.9" fill="#ec7522"/>
<circle cx="530.13" cy="220.70" r="3.9" fill="#f08526"/>
<circle cx="538.22" cy="226.70" r="3.9" fill="#f1922a"/>
<circle cx="546.31" cy="242.10" r="3.9" fill="#f5a42c"/>
<line x1="465.50" y1="198.70" x2="465.50" y2="314.65" stroke="#262626" stroke-width="0.9" />
<line x1="465.50" y1="298.80" x2="467.50" y2="298.80" stroke="#262626" stroke-width="0.8" />
<text x="464.70" y="303.10" font-size="10" text-anchor="end" font-weight="normal" fill="#262626" letter-spacing="0.4" >−1</text>
<line x1="465.50" y1="275.50" x2="467.50" y2="275.50" stroke="#262626" stroke-width="0.8" />
<text x="464.70" y="279.80" font-size="10" text-anchor="end" font-weight="normal" fill="#262626" letter-spacing="0.4" >−0.5</text>
<line x1="465.50" y1="252.20" x2="467.50" y2="252.20" stroke="#262626" stroke-width="0.8" />
<text x="464.70" y="256.50" font-size="10" text-anchor="end" font-weight="normal" fill="#262626" letter-spacing="0.4" >0</text>
<line x1="465.50" y1="228.90" x2="467.50" y2="228.90" stroke="#262626" stroke-width="0.8" />
<text x="464.70" y="233.20" font-size="10" text-anchor="end" font-weight="normal" fill="#262626" letter-spacing="0.4" >0.5</text>
<line x1="465.50" y1="205.60" x2="467.50" y2="205.60" stroke="#262626" stroke-width="0.8" />
<text x="464.70" y="209.90" font-size="10" text-anchor="end" font-weight="normal" fill="#262626" letter-spacing="0.4" >1</text>
<line x1="465.05" y1="314.50" x2="547.20" y2="314.50" stroke="#262626" stroke-width="0.9" />
<line x1="473.50" y1="314.50" x2="473.50" y2="312.50" stroke="#262626" stroke-width="0.8" />
<text x="473.70" y="327.60" font-size="10" text-anchor="middle" font-weight="normal" fill="#262626" letter-spacing="0.4" >1</text>
<line x1="489.68" y1="314.50" x2="489.68" y2="312.50" stroke="#262626" stroke-width="0.8" />
<text x="489.88" y="327.60" font-size="10" text-anchor="middle" font-weight="normal" fill="#262626" letter-spacing="0.4" >3</text>
<line x1="505.86" y1="314.50" x2="505.86" y2="312.50" stroke="#262626" stroke-width="0.8" />
<text x="506.06" y="327.60" font-size="10" text-anchor="middle" font-weight="normal" fill="#262626" letter-spacing="0.4" >5</text>
<line x1="522.04" y1="314.50" x2="522.04" y2="312.50" stroke="#262626" stroke-width="0.8" />
<text x="522.24" y="327.60" font-size="10" text-anchor="middle" font-weight="normal" fill="#262626" letter-spacing="0.4" >9</text>
<line x1="538.22" y1="314.50" x2="538.22" y2="312.50" stroke="#262626" stroke-width="0.8" />
<text x="538.42" y="327.60" font-size="10" text-anchor="middle" font-weight="normal" fill="#262626" letter-spacing="0.4" >13</text>
<text x="469.40" y="209.50" font-size="12" text-anchor="start" font-weight="normal" fill="#262626" letter-spacing="0.9" >N=8</text>
<text x="506.40" y="307.50" font-size="11" text-anchor="start" font-weight="normal" fill="#262626" letter-spacing="0.2" >p &lt; 0.001</text>
<text x="455.60" y="341.50" font-size="9.5" text-anchor="start" font-weight="normal" fill="#262626" >Stim. after Omission (#)</text>
<text transform="translate(441.30,257.00) rotate(-90)" font-size="11" text-anchor="middle" fill="#262626" letter-spacing="0.45" word-spacing="1.5">Δ Response (z score)</text>
<text x="554.20" y="185.70" font-size="14" text-anchor="start" font-weight="normal" fill="#000" >H</text>
<text x="572.60" y="185.40" font-size="12" text-anchor="start" font-weight="bold" fill="#000" letter-spacing="0.12" >Neural adaptation</text>
<polygon points="584.40,211.20 590.10,232.30 595.80,235.00 601.50,237.70 607.20,236.20 612.90,237.50 618.60,236.40 624.30,231.80 630.00,231.30 635.70,225.90 641.40,228.70 647.10,226.20 652.80,230.50 658.50,234.40 664.20,236.20 664.20,246.20 658.50,244.40 652.80,240.50 647.10,236.20 641.40,238.70 635.70,235.90 630.00,241.30 624.30,241.80 618.60,246.40 612.90,247.50 607.20,246.20 601.50,247.70 595.80,245.00 590.10,242.30 584.40,221.20" fill="#c0c0e8" fill-opacity="1.0"/>
<polygon points="584.40,228.50 590.10,271.20 595.80,278.40 601.50,282.60 607.20,285.50 612.90,283.20 618.60,282.60 624.30,276.90 630.00,272.60 635.70,271.20 641.40,271.80 647.10,274.10 652.80,272.60 658.50,277.50 664.20,279.20 664.20,288.20 658.50,286.50 652.80,281.60 647.10,283.10 641.40,280.80 635.70,280.20 630.00,281.60 624.30,285.90 618.60,291.60 612.90,292.20 607.20,294.50 601.50,291.60 595.80,287.40 590.10,280.20 584.40,237.50" fill="#e6c0c0" fill-opacity="1.0"/>
<polyline points="584.40,216.20 590.10,237.30 595.80,240.00 601.50,242.70 607.20,241.20 612.90,242.50 618.60,241.40 624.30,236.80 630.00,236.30 635.70,230.90 641.40,233.70 647.10,231.20 652.80,235.50 658.50,239.40 664.20,241.20" fill="none" stroke="#1f1f9a" stroke-width="1.5" stroke-linejoin="round" stroke-linecap="round" />
<polyline points="584.40,233.00 590.10,275.70 595.80,282.90 601.50,287.10 607.20,290.00 612.90,287.70 618.60,287.10 624.30,281.40 630.00,277.10 635.70,275.70 641.40,276.30 647.10,278.60 652.80,277.10 658.50,282.00 664.20,283.70" fill="none" stroke="#9b1c1c" stroke-width="1.5" stroke-linejoin="round" stroke-linecap="round" />
<line x1="584.50" y1="197.80" x2="584.50" y2="314.65" stroke="#262626" stroke-width="0.9" />
<line x1="584.50" y1="294.80" x2="586.50" y2="294.80" stroke="#262626" stroke-width="0.8" />
<text x="583.60" y="299.10" font-size="10" text-anchor="end" font-weight="normal" fill="#262626" letter-spacing="0.4" >1</text>
<line x1="584.50" y1="256.20" x2="586.50" y2="256.20" stroke="#262626" stroke-width="0.8" />
<text x="583.60" y="260.50" font-size="10" text-anchor="end" font-weight="normal" fill="#262626" letter-spacing="0.4" >2</text>
<line x1="584.50" y1="217.60" x2="586.50" y2="217.60" stroke="#262626" stroke-width="0.8" />
<text x="583.60" y="221.90" font-size="10" text-anchor="end" font-weight="normal" fill="#262626" letter-spacing="0.4" >3</text>
<line x1="584.05" y1="314.50" x2="664.30" y2="314.50" stroke="#262626" stroke-width="0.9" />
<line x1="607.20" y1="314.50" x2="607.20" y2="312.50" stroke="#262626" stroke-width="0.8" />
<text x="607.40" y="327.60" font-size="10" text-anchor="middle" font-weight="normal" fill="#262626" letter-spacing="0.4" >5</text>
<line x1="635.70" y1="314.50" x2="635.70" y2="312.50" stroke="#262626" stroke-width="0.8" />
<text x="635.90" y="327.60" font-size="10" text-anchor="middle" font-weight="normal" fill="#262626" letter-spacing="0.4" >10</text>
<line x1="664.20" y1="314.50" x2="664.20" y2="312.50" stroke="#262626" stroke-width="0.8" />
<text x="664.40" y="327.60" font-size="10" text-anchor="middle" font-weight="normal" fill="#262626" letter-spacing="0.4" >15</text>
<text x="587.80" y="209.00" font-size="12" text-anchor="start" font-weight="normal" fill="#262626" letter-spacing="0.9" >N=8</text>
<text x="617.90" y="302.00" font-size="11" text-anchor="start" font-weight="normal" fill="#2020b0" letter-spacing="0.2" >p &lt; 0.001</text>
<text x="617.90" y="311.20" font-size="11" text-anchor="start" font-weight="normal" fill="#a01c1c" letter-spacing="0.2" >p &lt; 0.001</text>
<text x="574.40" y="341.50" font-size="9.5" text-anchor="start" font-weight="normal" fill="#262626" >Stim. after Omission (#)</text>
<text transform="translate(565,255.3) rotate(-90)" font-size="11" text-anchor="middle" fill="#262626" letter-spacing="0.45" word-spacing="1.5">(ΔF/F<tspan font-size="8" dy="3">0</tspan><tspan dy="-3"> ) / RMS</tspan></text>
</svg></body></html>
